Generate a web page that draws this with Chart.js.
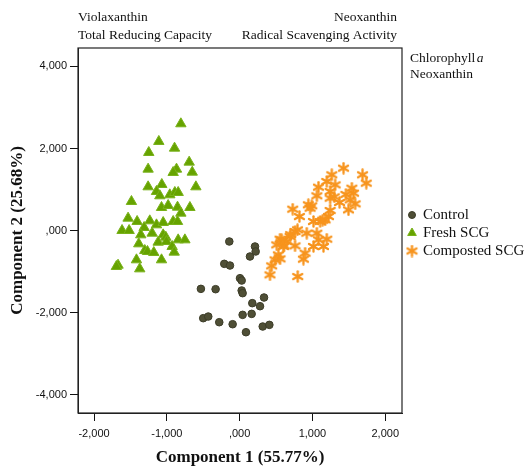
<!DOCTYPE html>
<html>
<head>
<meta charset="utf-8">
<script src="https://cdn.jsdelivr.net/npm/chart.js@4/dist/chart.umd.min.js"></script>
<style>
  html, body { margin: 0; padding: 0; background: #fff; }
  canvas { display: block; }
</style>
</head>
<body>
<canvas id="pcaChart" width="529" height="468"></canvas>
<script>
// series names, legend order
var seriesNames = ["Control", "Fresh SCG", "Composted SCG"];

// Control (component scores)
var controlX = [-142, 211, 220, 142, -211, -133, 5, 28, -532, -330, 28, 41, 335, 174, 280, 41, 165, -500, -431, -280, -96, 317, 408, 87];
var controlY = [-268, -390, -512, -634, -813, -854, -1163, -1220, -1423, -1431, -1463, -1528, -1634, -1772, -1846, -2057, -2033, -2138, -2098, -2236, -2285, -2341, -2301, -2480];

// Fresh SCG
var freshX = [-807, -1110, -1248, -894, -693, -1257, -867, -913, -651, -1257, -1069, -601, -1142, -1096, -959, -890, -844, -1486, -1073, -982, -853, -683, -807, -1532, -1408, -1234, -1142, -1050, -913, -853, -1615, -1518, -1312, -1358, -1202, -1050, -1014, -1385, -1119, -1005, -927, -844, -752, -1303, -1266, -1179, -899, -1417, -1073, -1670, -1693, -1372];
var freshY = [2602, 2171, 1902, 2008, 1667, 1496, 1496, 1415, 1423, 1065, 1122, 1065, 951, 846, 870, 927, 927, 707, 561, 610, 569, 561, 423, 301, 220, 236, 138, 195, 220, 220, 0, 0, 73, -106, -65, -106, -163, -325, -285, -268, -390, -228, -228, -488, -512, -537, -528, -715, -715, -846, -878, -935];

// Composted SCG
var compostedX = [1427, 1688, 1739, 1266, 1197, 1312, 1083, 1243, 1541, 1564, 1060, 1243, 1372, 1518, 1587, 1495, 991, 968, 729, 821, 1243, 1014, 1106, 1174, 1220, 761, 794, 922, 1060, 693, 555, 647, 610, 761, 899, 1014, 1151, 1197, 1083, 876, 532, 486, 555, 440, 417, 798, 578, 509, 600, 944, 700, 1140, 1300, 1460];
var compostedY = [1520, 1358, 1154, 1358, 1195, 1114, 1057, 951, 1033, 911, 846, 789, 683, 748, 650, 504, 602, 545, 520, 341, 488, 220, 220, 260, 341, -24, 16, -65, -65, -146, -211, -268, -374, -374, -553, -390, -390, -211, -228, -699, -593, -715, -691, -862, -1081, -1122, -227, -349, -390, 627, -100, 250, 820, 880];

// axis ticks
var xTicks = [-2000, -1000, 0, 1000, 2000];
var xTickLabels = ["-2,000", "-1,000", ",000", "1,000", "2,000"];
var yTicks = [-4000, -2000, 0, 2000, 4000];
var yTickLabels = ["-4,000", "-2,000", ",000", "2,000", "4,000"];

// variable labels around the plot
var topLeftLabels = ["Violaxanthin", "Total Reducing Capacity"];
var topRightLabels = ["Neoxanthin", "Radical Scavenging Activity"];
var sideLabels = ["Chlorophyll", "Neoxanthin"];

function toPoints(xs, ys) {
    return xs.map(function (x, i) { return {x: x, y: ys[i]}; });
}

// six spoke asterisk used for the composted marker
function makeAsterisk(color, size) {
    var c = document.createElement("canvas");
    c.width = size;
    c.height = size;
    var g = c.getContext("2d");
    g.strokeStyle = color;
    g.lineWidth = 2.3;
    g.lineCap = "round";
    var m = size / 2, r = size / 2 - 1.3;
    for (var k = 0; k < 3; k++) {
        var a = Math.PI / 2 + k * Math.PI / 3;
        g.beginPath();
        g.moveTo(m + Math.cos(a) * r, m - Math.sin(a) * r);
        g.lineTo(m - Math.cos(a) * r, m + Math.sin(a) * r);
        g.stroke();
    }
    g.fillStyle = color;
    g.beginPath();
    g.arc(m, m, 2, 0, Math.PI * 2);
    g.fill();
    return c;
}

var starImg = makeAsterisk("#f7941d", 13);

var serif = "'Liberation Serif', 'Times New Roman', serif";
var sans = "'Liberation Sans', Arial, sans-serif";

// labels, legend and frame drawn on top of the chart
var extrasPlugin = {
    id: "extras",
    afterDraw: function (chart) {
        var ctx = chart.ctx;
        var area = chart.chartArea;
        ctx.save();

        ctx.strokeStyle = "#222";
        ctx.lineWidth = 1.2;
        ctx.strokeRect(area.left, area.top, area.right - area.left, area.bottom - area.top);

        ctx.fillStyle = "#111";
        ctx.font = "13.5px " + serif;
        ctx.textBaseline = "middle";
        ctx.textAlign = "left";
        ctx.fillText(topLeftLabels[0], area.left, 17);
        ctx.fillText(topLeftLabels[1], area.left, 35);
        ctx.textAlign = "right";
        ctx.fillText(topRightLabels[0], area.right - 5, 17);
        ctx.fillText(topRightLabels[1], area.right - 5, 35);

        ctx.textAlign = "left";
        var sx = area.right + 8;
        ctx.fillText(sideLabels[0], sx, 58);
        var w = ctx.measureText(sideLabels[0] + " ").width;
        ctx.font = "italic 13.5px " + serif;
        ctx.fillText("a", sx + w - 2, 58);
        ctx.font = "13.5px " + serif;
        ctx.fillText(sideLabels[1], sx, 74);

        // legend
        ctx.font = "15px " + serif;
        var ly = 215;
        chart.data.datasets.forEach(function (ds, i) {
            var y = ly + i * 18;
            ctx.fillStyle = ds.backgroundColor;
            ctx.strokeStyle = ds.borderColor;
            ctx.lineWidth = 1;
            Chart.helpers.drawPoint(ctx, {
                pointStyle: ds.pointStyle,
                radius: ds.pointStyle === "triangle" ? 5 : 3.5,
                rotation: 0,
                borderWidth: 1
            }, area.right + 10, y);
            ctx.fillStyle = "#111";
            ctx.fillText(ds.label, area.right + 21, y);
        });
        ctx.restore();
    }
};

new Chart("pcaChart", {
    type: "scatter",
    data: {
        datasets: [{
            label: seriesNames[0],
            data: toPoints(controlX, controlY),
            pointStyle: "circle",
            pointRadius: 3.8,
            backgroundColor: "#4f4f36",
            borderColor: "#3c3c28",
            borderWidth: 1
        }, {
            label: seriesNames[1],
            data: toPoints(freshX, freshY),
            pointStyle: "triangle",
            pointRadius: 6,
            backgroundColor: "#66a300",
            borderColor: "#79b21a",
            borderWidth: 1
        }, {
            label: seriesNames[2],
            data: toPoints(compostedX, compostedY),
            pointStyle: starImg,
            pointRadius: 6,
            backgroundColor: "#f7941d",
            borderColor: "#f7941d",
            borderWidth: 1
        }]
    },
    options: {
        responsive: false,
        animation: false,
        layout: {padding: {top: 48, right: 127, left: 0, bottom: 0}},
        scales: {
            x: {
                type: "linear",
                min: -2220,
                max: 2230,
                afterBuildTicks: function (s) { s.ticks = xTicks.map(function (v) { return {value: v}; }); },
                afterFit: function (s) { s.height = 55; },
                grid: {drawOnChartArea: false, drawTicks: true, tickLength: 8, color: "#111"},
                border: {display: true, color: "#222"},
                ticks: {
                    autoSkip: false,
                    maxRotation: 0,
                    padding: 6,
                    color: "#111",
                    font: {family: sans, size: 11},
                    callback: function (v) { return xTickLabels[xTicks.indexOf(v)]; }
                },
                title: {
                    display: true,
                    text: "Component 1 (55.77%)",
                    color: "#111",
                    font: {family: serif, size: 17, weight: "bold", lineHeight: 1.2},
                    padding: {top: 0, bottom: 0}
                }
            },
            y: {
                type: "linear",
                min: -4450,
                max: 4450,
                afterBuildTicks: function (s) { s.ticks = yTicks.map(function (v) { return {value: v}; }); },
                afterFit: function (s) { s.width = 78; },
                grid: {drawOnChartArea: false, drawTicks: true, tickLength: 8, color: "#111"},
                border: {display: true, color: "#222"},
                ticks: {
                    autoSkip: false,
                    padding: 3,
                    color: "#111",
                    font: {family: sans, size: 11},
                    callback: function (v) { return yTickLabels[yTicks.indexOf(v)]; }
                },
                title: {
                    display: true,
                    text: "Component 2 (25.68%)",
                    color: "#111",
                    font: {family: serif, size: 17, weight: "bold", lineHeight: 1.2},
                    padding: {top: 7, bottom: 0}
                }
            }
        },
        plugins: {
            legend: {display: false},
            tooltip: {enabled: false}
        }
    },
    plugins: [extrasPlugin]
});
</script>
</body>
</html>
